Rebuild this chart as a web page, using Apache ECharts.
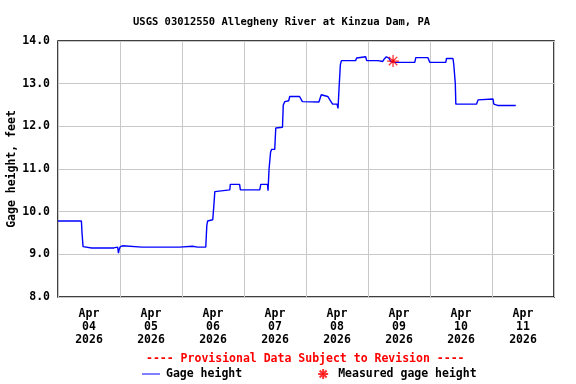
<!DOCTYPE html>
<html><head><meta charset="utf-8">
<script src="https://cdn.jsdelivr.net/npm/echarts@6/dist/echarts.min.js"></script>
<style>html,body{margin:0;padding:0;background:#fff}#c{width:576px;height:384px}</style>
</head><body><div id="c"></div>
<script>
// hours since Apr 04 2026 00:00
const gageHours = [0,9.06,9.3,9.7,13.0,21.6,22,23.1,23.4,23.7,24.1,24.5,24.7,25,25.4,32.5,32.7,33,47.1,47.3,52,52.1,54.1,54.2,54.5,57.2,57.6,57.9,58.3,59.9,60.4,60.7,61.4,66.5,66.7,70.3,70.6,78.1,78.5,81.1,81.3,81.7,82.3,82.7,83.9,84.3,86.9,87.2,87.8,89.3,89.7,93.5,94.6,101,101.9,104.4,105.8,106.3,108,108.4,108.8,109.3,109.7,115.2,115.6,116.1,119.1,119.5,123.9,124.1,125.7,126.3,127.1,128.1,128.8,130.3,138.1,138.5,143.2,143.9,150.1,150.4,152.9,153.2,153.8,154,162,162.6,163.3,168.4,168.7,170.2,177.2];
const gageFeet  = [9.78,9.78,9.50,9.18,9.15,9.15,9.17,9.17,9.03,9.12,9.18,9.20,9.18,9.20,9.17,9.17,9.19,9.17,9.17,9.19,9.19,9.17,9.17,9.20,9.17,9.17,9.67,9.78,9.81,9.81,10.20,10.47,10.51,10.51,10.64,10.64,10.51,10.51,10.64,10.64,10.49,11.00,11.40,11.46,11.46,11.96,11.98,12.50,12.58,12.60,12.70,12.70,12.58,12.57,12.74,12.70,12.57,12.52,12.52,12.42,12.90,13.44,13.54,13.54,13.60,13.63,13.63,13.54,13.54,13.52,13.52,13.58,13.63,13.60,13.52,13.50,13.50,13.61,13.61,13.50,13.50,13.59,13.59,13.45,13.00,12.52,12.52,12.62,12.64,12.64,12.52,12.49,12.49];
const measuredHours = [129.7];
const measuredFeet = [13.53];
const dayLabels = ['Apr\n04\n2026','Apr\n05\n2026','Apr\n06\n2026','Apr\n07\n2026','Apr\n08\n2026','Apr\n09\n2026','Apr\n10\n2026','Apr\n11\n2026'];
const titleText = 'USGS 03012550 Allegheny River at Kinzua Dam, PA';

const FONT = '"DejaVu Sans Mono", monospace';
const star = 'path://M0,5L10,5M5,0L5,10M1.5,1.5L8.5,8.5M8.5,1.5L1.5,8.5M4,4L6,4L6,6L4,6Z';
const chart = echarts.init(document.getElementById('c'), null, {renderer:'canvas'});
chart.setOption({
  animation:false,
  backgroundColor:'#fff',
  title:{text:titleText,left:128,top:12,textStyle:{fontFamily:FONT,fontSize:10.5,fontWeight:'bold',color:'#000'}},
  grid:{left:58,right:22,top:41,bottom:87,containLabel:false,outerBoundsMode:'none',show:true,borderColor:'#000',borderWidth:1.5,backgroundColor:'transparent'},
  xAxis:[
    {type:'value',min:0,max:192,interval:24,axisLine:{show:false},axisTick:{show:false},axisLabel:{show:false},
     splitLine:{show:true,lineStyle:{color:'#c8c8c8',width:1}}},
    {type:'value',min:0,max:192,interval:12,position:'bottom',axisLine:{show:false},axisTick:{show:false},
     splitLine:{show:false},
     axisLabel:{margin:11,fontFamily:FONT,fontSize:11.5,fontWeight:'bold',color:'#000',lineHeight:13,
       formatter:v=>(v%24===12?dayLabels[(v-12)/24]:'')}}
  ],
  yAxis:{type:'value',min:8,max:14,interval:1,axisLine:{show:false},axisTick:{show:false},
    splitLine:{show:true,lineStyle:{color:'#c8c8c8',width:1}},
    axisLabel:{margin:8,fontFamily:FONT,fontSize:11.5,fontWeight:'bold',color:'#000',formatter:v=>v.toFixed(1)},
    name:'Gage height, feet',nameLocation:'middle',nameGap:40,nameMoveOverlap:false,
    nameTextStyle:{fontFamily:FONT,fontSize:11.5,fontWeight:'bold',color:'#000'}},
  legend:{left:137,top:363,itemWidth:18,itemHeight:10,itemGap:75,
    textStyle:{fontFamily:FONT,fontSize:11.5,fontWeight:'bold',color:'#000',padding:[0,0,0,1]},
    data:[{name:'Gage height',icon:'path://M0,5L18,5L18,6L0,6Z',itemStyle:{color:'#0000ff',borderWidth:0}},
          {name:'Measured gage height'}]},
  graphic:[{type:'text',left:146,top:353,
    style:{text:'---- Provisional Data Subject to Revision ----',font:'bold 11.5px '+FONT,fill:'#ff0000'}}],
  series:[
    {name:'Gage height',type:'line',xAxisIndex:0,data:gageHours.map((h,i)=>[h,gageFeet[i]]),
     showSymbol:false,symbol:'none',lineStyle:{color:'#0000ff',width:1.4},itemStyle:{color:'#0000ff'}},
    {name:'Measured gage height',type:'scatter',xAxisIndex:0,data:measuredHours.map((h,i)=>[h,measuredFeet[i]]),
     symbol:star,symbolSize:12,symbolKeepAspect:true,z:5,
     itemStyle:{color:'#ff0000',borderColor:'#ff0000',borderWidth:1.3}}
  ]
});
</script></body></html>
